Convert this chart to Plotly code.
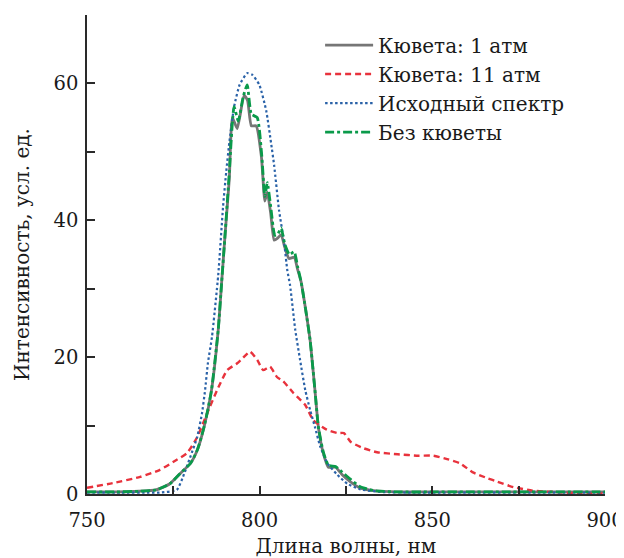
import plotly.graph_objects as go

# --- Data ---
wl_cell1 = [750, 758, 765, 770, 774, 777, 780, 782, 784, 786, 788, 789, 790, 791.2, 792.1,
            793.5, 795.5, 796.5, 797.6, 799.0, 800.5, 801.5, 802.2, 803.2, 804.2, 805.2, 806.2,
            807.3, 808.5, 810.0, 811.0, 812.0, 813.3, 814.6, 816.0, 817.0, 818.4, 819.9, 822.0,
            823.9, 826.2, 829.0, 833, 840, 850, 860, 870, 880, 890, 900]
int_cell1 = [0.3, 0.3, 0.4, 0.6, 1.5, 3.0, 4.5, 6.5, 10.0, 15.0, 24.0, 31.0, 38.0, 46.0, 55.0,
             53.4, 58.3, 57.5, 53.8, 53.8, 49.3, 42.8, 44.1, 41.0, 37.1, 37.4, 37.9,
             36.0, 34.4, 34.6, 32.8, 31.0, 27.0, 22.5, 15.2, 9.8, 6.0, 3.9, 3.9,
             2.8, 1.8, 0.9, 0.5, 0.3, 0.3, 0.3, 0.3, 0.3, 0.3, 0.3]

wl_cell11 = [750, 757.5, 765.4, 771, 776, 779, 781.9, 784.8, 787.7, 790.6, 793.5, 795.2, 797.2,
             799.3, 801, 803, 805, 806.8, 809.7, 813.2, 815.5, 819.4, 822.5, 824.4, 826.4, 830,
             834, 840, 846, 850.3, 854.3, 858, 861.6, 866, 868.8, 873.5, 879, 885, 893, 900]
int_cell11 = [0.9, 1.6, 2.5, 3.5, 5.0, 6.0, 8.3, 11.8, 15.2, 18.1, 19.1, 19.9, 20.8,
              19.6, 18.1, 18.6, 17.1, 16.5, 14.8, 13.0, 10.8, 9.4, 8.9, 8.9, 7.6, 6.7,
              6.1, 5.8, 5.6, 5.6, 5.1, 4.5, 3.2, 2.3, 1.8, 1.0, 0.5, 0.3, 0.1, 0.1]

wl_source = [750, 760, 768, 771, 776, 777.8, 779.9, 781.9, 783.3, 784.2, 785, 786.2, 788,
             789.4, 790.3, 791.2, 792.6, 794.2, 796.4, 797.8, 799.9, 801.9, 803.3, 804.2,
             805.6, 807.1, 808, 808.8, 810.3, 811.7, 813.2, 814.6, 816, 817.5, 819.6, 822.5,
             825.4, 829, 835, 845, 860, 880, 900]
int_source = [0.2, 0.2, 0.2, 0.2, 0.6, 2.5, 5.4, 8.3, 11.8, 15.2, 19.1, 23.0, 32.0,
              42.0, 47.0, 51.3, 56.6, 59.8, 61.5, 61.3, 59.8, 56.0, 51.3, 48.0,
              41.5, 36.7, 32.7, 30.5, 24.0, 19.6, 15.2, 12.3, 9.8, 7.0, 4.5, 2.8,
              1.5, 0.7, 0.3, 0.2, 0.2, 0.2, 0.2]

wl_nocell = [750, 758, 765, 770, 774, 777, 780, 782, 784, 786, 788, 789, 790, 791.2, 792.6,
             793.8, 795.2, 796.4, 797.6, 799.3, 800.6, 801.5, 802.2, 803.2, 804.4, 805.3,
             806.2, 807.3, 808.6, 810.0, 811.0, 812.0, 813.3, 814.6, 816.0, 817.0, 818.4,
             819.9, 822.0, 823.9, 826.2, 829.0, 833, 840, 850, 860, 870, 880, 890, 900]
int_nocell = [0.3, 0.3, 0.4, 0.6, 1.5, 3.0, 4.5, 6.5, 10.0, 15.0, 24.0, 31.0, 38.0, 47.0, 56.6,
              54.5, 58.0, 59.8, 55.5, 55.0, 49.5, 43.5, 45.5, 42.0, 37.8, 38.0,
              38.9, 36.5, 35.0, 35.4, 33.2, 31.0, 27.0, 22.5, 15.2, 9.8, 6.2,
              4.2, 4.0, 3.2, 2.2, 1.1, 0.5, 0.3, 0.3, 0.3, 0.3, 0.3, 0.3, 0.3]

x_tickvals = [750, 775, 800, 825, 850, 875, 900]
x_ticktext = ["750", "", "800", "", "850", "", "900"]
y_tickvals = [0, 10, 20, 30, 40, 50, 60, 70]
y_ticktext = ["0", "", "20", "", "40", "", "60", ""]

FONT = "DejaVu Serif"
AX = "#2a2a2a"

fig = go.Figure()
fig.add_trace(go.Scatter(x=wl_cell1, y=int_cell1, mode="lines", name="Кювета: 1 атм",
                         line=dict(color="#767676", width=2.8, dash="solid",
                                   shape="spline", smoothing=0.5)))
fig.add_trace(go.Scatter(x=wl_cell11, y=int_cell11, mode="lines", name="Кювета: 11 атм",
                         line=dict(color="#e8323c", width=2.4, dash="6px,4px",
                                   shape="spline", smoothing=0.5)))
fig.add_trace(go.Scatter(x=wl_source, y=int_source, mode="lines", name="Исходный спектр",
                         line=dict(color="#2a62a8", width=2.2, dash="2.5px,2.5px",
                                   shape="spline", smoothing=0.5)))
fig.add_trace(go.Scatter(x=wl_nocell, y=int_nocell, mode="lines", name="Без кюветы",
                         line=dict(color="#0a9a4a", width=2.8, dash="dashdot",
                                   shape="spline", smoothing=0.5)))

fig.update_layout(
    width=624, height=558,
    margin=dict(l=79, r=27, t=7, b=72),
    paper_bgcolor="white", plot_bgcolor="white",
    font=dict(family=FONT, size=19.5, color="#1a1a1a"),
    showlegend=True,
    legend=dict(x=0.45, y=0.978, xanchor="left", yanchor="top",
                font=dict(family=FONT, size=20, color="#1a1a1a"),
                bgcolor="rgba(0,0,0,0)", tracegroupgap=0, itemwidth=48),
)
fig.update_xaxes(range=[750, 900], tickvals=x_tickvals, ticktext=x_ticktext,
                 ticks="inside", ticklen=8, tickwidth=1.5, tickcolor=AX,
                 showline=True, linecolor=AX, linewidth=1.5, mirror=False,
                 showgrid=False, zeroline=False, automargin=False,
                 ticklabelstandoff=8, ticklabeloverflow="allow",
                 title=dict(text="Длина волны, нм", standoff=8,
                            font=dict(family=FONT, size=20)))
fig.update_yaxes(range=[0, 70], tickvals=y_tickvals, ticktext=y_ticktext,
                 ticks="inside", ticklen=8, tickwidth=1.5, tickcolor=AX,
                 showline=True, linecolor=AX, linewidth=1.5, mirror=False,
                 showgrid=False, zeroline=False, automargin=False,
                 ticklabelstandoff=3,
                 title=dict(text="Интенсивность, усл. ед.", standoff=19,
                            font=dict(family=FONT, size=20)))

fig.write_html("out.html")
